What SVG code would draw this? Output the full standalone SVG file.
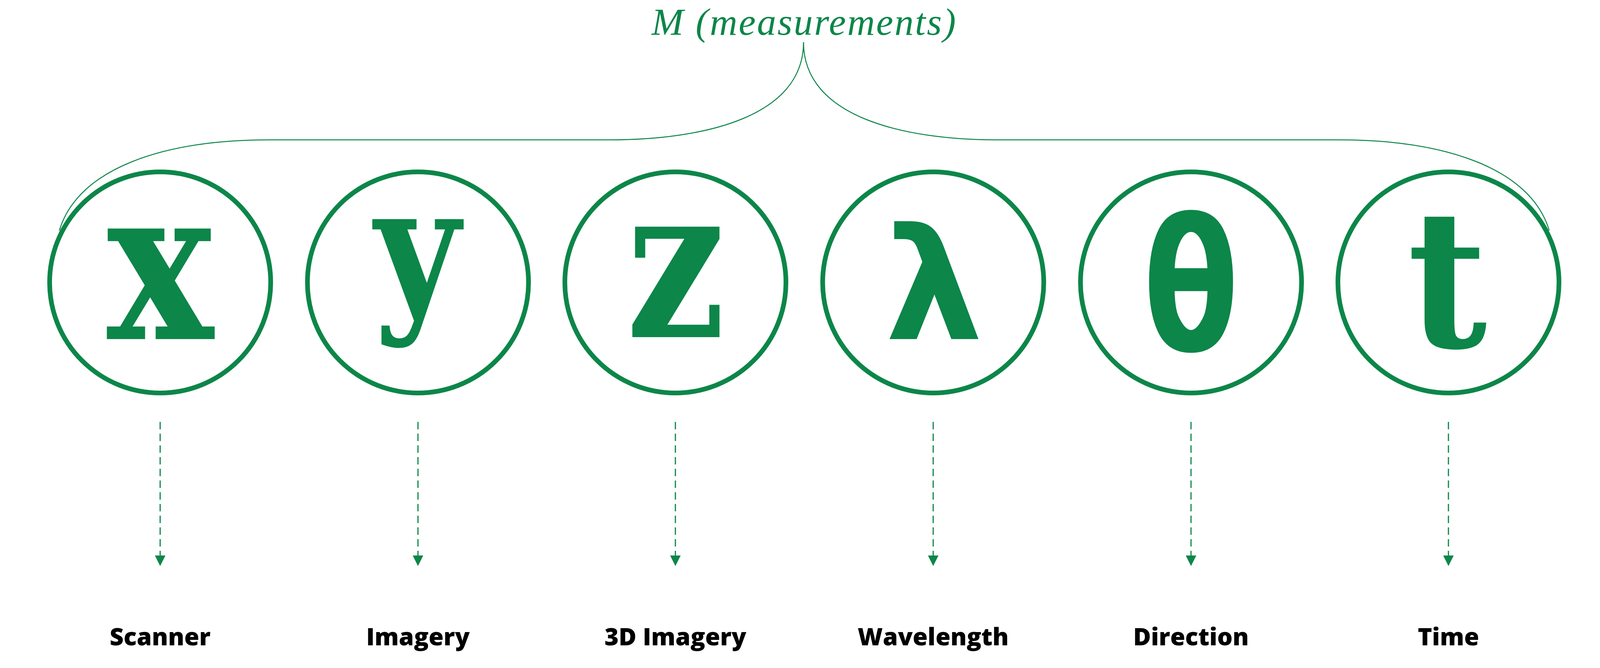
<svg xmlns="http://www.w3.org/2000/svg" width="4118" height="1710" viewBox="0 0 4118 1710">
<defs>
<style>
.ring{fill:none;stroke:#0c8649;stroke-width:12}
.glyph{fill:#0c8649;text-anchor:middle}
.serif{font-family:"DejaVu Serif","Liberation Serif",serif;font-weight:700}
.sans{font-family:"DejaVu Sans","Liberation Sans",sans-serif;font-weight:700}
.label{font-family:"Open Sans","Liberation Sans",sans-serif;font-weight:800;font-size:62px;fill:#000;text-anchor:middle}
.title{font-family:"Liberation Serif","DejaVu Serif",serif;font-style:italic;font-size:98px;fill:#0c8649}
.brace{fill:none;stroke:#0c8649;stroke-width:2.5}
.arrow{fill:none;stroke:#0c8649;stroke-width:3;stroke-dasharray:19 11}
</style>
<marker id="head" markerUnits="userSpaceOnUse" markerWidth="27" markerHeight="27" refX="0" refY="13.5" orient="auto">
<path d="M0,0 L27,13.5 L0,27 Z" fill="#0c8649"/>
</marker>
</defs>
<rect width="4118" height="1710" fill="#fff"/>

<g id="title">
<text class="title" x="1668" y="89" textLength="779" lengthAdjust="spacing">M (measurements)</text>
</g>

<g id="connectors">
<path class="brace" d="M2057,108 C2057,300 1800,358 1560,358 L690,358 C420,358 200,430 152,590"/>
<path class="brace" d="M2057,108 C2057,300 2314,358 2554,358 L3428,358 C3698,358 3918,430 3966,590"/>
<line class="arrow" x1="410" y1="1080" x2="410" y2="1422" marker-end="url(#head)"/>
<line class="arrow" x1="1070" y1="1080" x2="1070" y2="1422" marker-end="url(#head)"/>
<line class="arrow" x1="1729" y1="1080" x2="1729" y2="1422" marker-end="url(#head)"/>
<line class="arrow" x1="2389" y1="1080" x2="2389" y2="1422" marker-end="url(#head)"/>
<line class="arrow" x1="3049" y1="1080" x2="3049" y2="1422" marker-end="url(#head)"/>
<line class="arrow" x1="3708" y1="1080" x2="3708" y2="1422" marker-end="url(#head)"/>
</g>

<g id="node-x">
<circle class="ring" cx="410" cy="723" r="283"/>
<text class="glyph serif" transform="translate(410,868) scale(0.84,1)" font-size="545">x</text>
<text class="label" x="410" y="1652">Scanner</text>
</g>
<g id="node-y">
<circle class="ring" cx="1070" cy="723" r="283"/>
<text class="glyph serif" transform="translate(1068,792) scale(0.85,1)" font-size="445">y</text>
<text class="label" x="1070" y="1652">Imagery</text>
</g>
<g id="node-z">
<circle class="ring" cx="1729" cy="723" r="283"/>
<text class="glyph serif" transform="translate(1730,863) scale(0.82,1)" font-size="545">z</text>
<text class="label" x="1729" y="1652">3D Imagery</text>
</g>
<g id="node-lambda">
<circle class="ring" cx="2389" cy="723" r="283"/>
<text class="glyph sans" transform="translate(2391,868)" font-size="397">λ</text>
<text class="label" x="2389" y="1652">Wavelength</text>
</g>
<g id="node-theta">
<circle class="ring" cx="3049" cy="723" r="283"/>
<text class="glyph sans" transform="translate(3049,898) scale(0.76,1)" font-size="470">θ</text>
<text class="label" x="3049" y="1652">Direction</text>
</g>
<g id="node-t">
<circle class="ring" cx="3708" cy="723" r="283"/>
<text class="glyph serif" transform="translate(3705,888) scale(0.9,1)" font-size="490">t</text>
<text class="label" x="3708" y="1652">Time</text>
</g>
</svg>
